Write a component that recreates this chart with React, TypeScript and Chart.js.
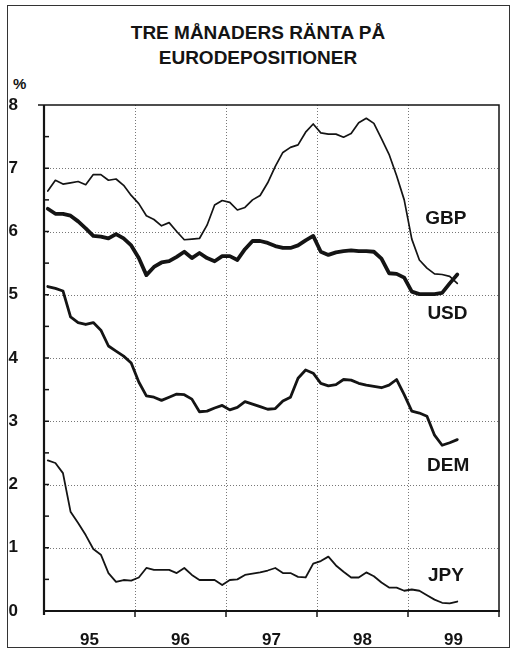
import { useEffect, useRef } from "react";
import { Chart, registerables } from "chart.js";

Chart.register(...registerables);

// Monthly values, Jan 1995 .. Jul 1999
const yearLabels = ["95", "96", "97", "98", "99"];

const gbp = [
  6.64, 6.81, 6.75, 6.77, 6.79, 6.74, 6.9, 6.9, 6.81, 6.83, 6.73, 6.57,
  6.44, 6.25, 6.19, 6.09, 6.14, 6.0, 5.87, 5.88, 5.89, 6.1, 6.42, 6.49,
  6.46, 6.34, 6.38, 6.5, 6.57, 6.77, 7.03, 7.25, 7.33, 7.37, 7.57, 7.7,
  7.56, 7.54, 7.54, 7.49, 7.55, 7.72, 7.79, 7.71, 7.47, 7.22, 6.88, 6.5,
  5.88, 5.55, 5.42, 5.33, 5.32, 5.29, 5.18,
];

const usd = [
  6.36, 6.28, 6.28, 6.25, 6.16, 6.05, 5.93, 5.92, 5.89, 5.96, 5.89, 5.78,
  5.58, 5.31, 5.44, 5.51, 5.53, 5.6, 5.68, 5.58, 5.66, 5.58, 5.53, 5.61,
  5.61, 5.55, 5.72, 5.85, 5.85, 5.82, 5.77, 5.74, 5.74, 5.78, 5.86, 5.93,
  5.68, 5.63, 5.67, 5.69, 5.7, 5.69, 5.69, 5.68, 5.57, 5.34, 5.33, 5.27,
  5.05, 5.01, 5.01, 5.01, 5.03, 5.18, 5.32,
];

const dem = [
  5.13, 5.1, 5.06, 4.65, 4.56, 4.53, 4.56, 4.44, 4.19, 4.11, 4.03, 3.92,
  3.62, 3.4, 3.38, 3.33, 3.38, 3.43, 3.42, 3.35, 3.15, 3.16, 3.21, 3.25,
  3.18, 3.22, 3.31, 3.27, 3.23, 3.19, 3.2, 3.32, 3.38, 3.68, 3.81, 3.76,
  3.6, 3.56, 3.58, 3.66, 3.65, 3.6, 3.57, 3.55, 3.53, 3.57, 3.66, 3.42,
  3.16, 3.13, 3.08, 2.78, 2.62, 2.66, 2.71,
];

const jpy = [
  2.38, 2.34, 2.18, 1.57, 1.39, 1.2, 0.98, 0.89, 0.6, 0.46, 0.49, 0.48,
  0.53, 0.68, 0.65, 0.65, 0.65, 0.6, 0.68, 0.57, 0.49, 0.49, 0.49, 0.41,
  0.49, 0.5, 0.57, 0.59, 0.61, 0.64, 0.68, 0.6, 0.6, 0.54, 0.53, 0.75,
  0.79, 0.86, 0.72, 0.62, 0.53, 0.53, 0.61, 0.55, 0.45, 0.37, 0.37, 0.32,
  0.34, 0.32, 0.25, 0.18, 0.13, 0.12, 0.15,
];

const seriesNames = ["GBP", "USD", "DEM", "JPY"];
const labelAnchors = [
  [53, 6.2],
  [53.2, 4.7],
  [53.3, 2.3],
  [53, 0.55],
];

const FONT = '"Liberation Sans", Arial, Helvetica, sans-serif';
const INK = "#141414";

const toPoints = (arr: number[]) => arr.map((v, i) => ({ x: i + 0.5, y: v }));

const decorPlugin = {
  id: "decor",
  beforeDatasetsDraw(chart: any) {
    const { ctx, chartArea: a, scales } = chart;
    const x = scales.x;
    const y = scales.y;
    ctx.save();
    ctx.strokeStyle = "#777";
    ctx.lineWidth = 1;
    ctx.setLineDash([1, 2]);
    for (let v = 1; v <= 7; v++) {
      const py = Math.round(y.getPixelForValue(v)) + 0.5;
      ctx.beginPath();
      ctx.moveTo(a.left, py);
      ctx.lineTo(a.right, py);
      ctx.stroke();
    }
    for (const m of [12, 24, 36, 48]) {
      const px = Math.round(x.getPixelForValue(m)) + 0.5;
      ctx.beginPath();
      ctx.moveTo(px, a.top);
      ctx.lineTo(px, a.bottom);
      ctx.stroke();
    }
    ctx.restore();
  },
  afterDatasetsDraw(chart: any) {
    const { ctx, chartArea: a, scales } = chart;
    const x = scales.x;
    const y = scales.y;
    ctx.save();
    ctx.setLineDash([]);
    ctx.strokeStyle = INK;
    // frame
    ctx.lineWidth = 1.5;
    ctx.beginPath();
    ctx.moveTo(a.left, a.top);
    ctx.lineTo(a.right, a.top);
    ctx.lineTo(a.right, a.bottom);
    ctx.stroke();
    ctx.lineWidth = 2.2;
    ctx.beginPath();
    ctx.moveTo(a.left, a.top);
    ctx.lineTo(a.left, a.bottom + 4);
    ctx.moveTo(a.left - 1, a.bottom);
    ctx.lineTo(a.right + 1, a.bottom);
    ctx.stroke();
    // y ticks (inside) every 0.5
    ctx.lineWidth = 1.5;
    for (let v = 0.5; v < 8; v += 0.5) {
      const py = y.getPixelForValue(v);
      ctx.beginPath();
      ctx.moveTo(a.left, py);
      ctx.lineTo(a.left + 5, py);
      ctx.stroke();
    }
    const p8 = y.getPixelForValue(8);
    ctx.beginPath();
    ctx.moveTo(a.left - 6, p8);
    ctx.lineTo(a.left, p8);
    ctx.stroke();
    // x ticks (outside)
    for (const m of [12, 24, 36, 48, 60]) {
      const px = x.getPixelForValue(m);
      ctx.beginPath();
      ctx.moveTo(px, a.bottom);
      ctx.lineTo(px, a.bottom + 6);
      ctx.stroke();
    }
    // series labels
    ctx.fillStyle = INK;
    ctx.font = `bold 19px ${FONT}`;
    ctx.textAlign = "center";
    ctx.textBaseline = "middle";
    seriesNames.forEach((name, i) => {
      const [lx, ly] = labelAnchors[i];
      ctx.fillText(name, x.getPixelForValue(lx), y.getPixelForValue(ly));
    });
    ctx.restore();
  },
};

export default function App() {
  const ref = useRef<HTMLCanvasElement | null>(null);

  useEffect(() => {
    if (!ref.current) return;
    const mk = (label: string, data: number[], w: number) => ({
      label,
      data: toPoints(data),
      borderColor: INK,
      borderWidth: w,
      pointRadius: 0,
      tension: 0,
      fill: false,
      borderJoinStyle: "round" as const,
      borderCapStyle: "round" as const,
    });
    const chart = new Chart(ref.current, {
      type: "line",
      data: {
        datasets: [
          mk("GBP", gbp, 1.7),
          mk("USD", usd, 3.8),
          mk("DEM", dem, 2.8),
          mk("JPY", jpy, 1.8),
        ],
      },
      options: {
        animation: false,
        responsive: false,
        devicePixelRatio: 1,
        layout: { padding: { top: 105, right: 17, left: 0, bottom: 0 } },
        plugins: {
          legend: { display: false },
          tooltip: { enabled: false },
          title: { display: false },
        },
        scales: {
          x: {
            type: "linear",
            min: 0,
            max: 60,
            grid: { display: false },
            border: { display: false },
            afterBuildTicks: (s: any) => {
              s.ticks = [6, 18, 30, 42, 54].map((v) => ({ value: v }));
            },
            afterFit: (s: any) => {
              s.height = 42;
            },
            ticks: {
              autoSkip: false,
              maxRotation: 0,
              padding: 11,
              color: INK,
              font: { family: FONT, size: 17, weight: "bold" },
              callback: (v: any) => yearLabels[Math.round((Number(v) - 6) / 12)] ?? "",
            },
          },
          y: {
            type: "linear",
            min: 0,
            max: 8,
            grid: { display: false },
            border: { display: false },
            afterFit: (s: any) => {
              s.width = 44;
            },
            ticks: {
              stepSize: 1,
              padding: 18,
              color: INK,
              font: { family: FONT, size: 17, weight: "bold" },
            },
          },
        },
      },
      plugins: [decorPlugin],
    });
    return () => chart.destroy();
  }, []);

  return (
    <div>
      <div
        style={{
          position: "absolute",
          left: 7,
          top: 5,
          width: 503,
          height: 643,
          border: "1px solid #333",
          boxSizing: "border-box",
        }}
      />
      <div
        style={{
          position: "absolute",
          left: 0,
          top: 20,
          width: 516,
          textAlign: "center",
          fontFamily: FONT,
          fontWeight: "bold",
          fontSize: 19,
          lineHeight: "25px",
          color: INK,
        }}
      >
        TRE MÅNADERS RÄNTA PÅ
        <br />
        EURODEPOSITIONER
      </div>
      <div
        style={{
          position: "absolute",
          left: 13,
          top: 75,
          fontFamily: FONT,
          fontWeight: "bold",
          fontSize: 15,
          color: INK,
        }}
      >
        %
      </div>
      <canvas
        ref={ref}
        width={516}
        height={653}
        style={{ position: "absolute", left: 0, top: 0, width: 516, height: 653 }}
      />
    </div>
  );
}
